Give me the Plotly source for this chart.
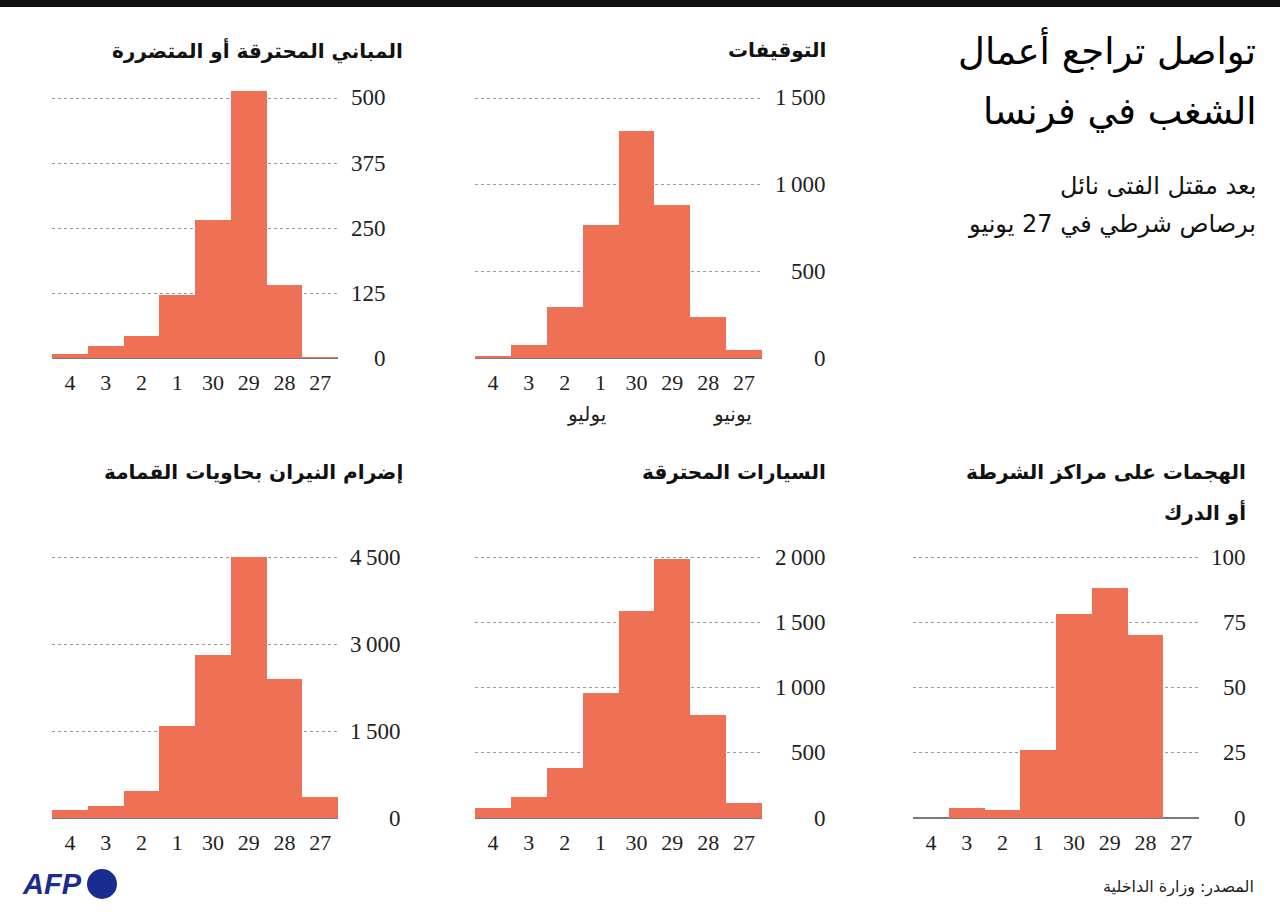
import plotly.graph_objects as go

W, H = 1280, 912

# ---------------- data ----------------
dates = ["27", "28", "29", "30", "1", "2", "3", "4"]          # chronological
display_order = ["4", "3", "2", "1", "30", "29", "28", "27"]  # left -> right

buildings = [1, 140, 514, 265, 121, 42, 23, 7]
arrests = [44, 237, 881, 1311, 769, 294, 77, 13]
bins = [355, 2397, 4500, 2803, 1591, 470, 200, 143]
cars = [115, 786, 1987, 1583, 958, 383, 158, 77]
attacks = [0, 70, 88, 78, 26, 3, 4, 0]

ticks_buildings = [0, 125, 250, 375, 500]
ticks_arrests = [0, 500, 1000, 1500]
ticks_bins = [0, 1500, 3000, 4500]
ticks_cars = [0, 500, 1000, 1500, 2000]
ticks_attacks = [0, 25, 50, 75, 100]

title_lines = ["تواصل تراجع أعمال", "الشغب في فرنسا"]
subtitle_lines = ["بعد مقتل الفتى نائل", "برصاص شرطي في 27 يونيو"]
panel_titles = [
    ["المباني المحترقة أو المتضررة"],
    ["التوقيفات"],
    ["إضرام النيران بحاويات القمامة"],
    ["السيارات المحترقة"],
    ["الهجمات على مراكز الشرطة", "أو الدرك"],
]
month_july = "يوليو"
month_june = "يونيو"
source_text = "المصدر: وزارة الداخلية"

BAR = "#EE7055"
AR_FONT = "DejaVu Sans"
NUM_FONT = "Liberation Serif"


def fmt(v):
    s = f"{v:,}"
    return s.replace(",", "\u2009")


def px_x(x):
    return x / W


def px_y(y):
    return 1 - y / H


# panels: (values, ticks, x-left, x-right, zero px, top-tick px, label-right px, title-right px, title-y px)
panels = [
    (buildings, ticks_buildings, 52, 338, 358, 98, 388, 405, 50),
    (arrests, ticks_arrests, 475, 762, 358, 98, 828, 828, 50),
    (bins, ticks_bins, 52, 338, 818, 557, 403, 405, 472),
    (cars, ticks_cars, 475, 762, 818, 557, 828, 828, 472),
    (attacks, ticks_attacks, 913, 1199, 818, 557, 1248, 1248, 472),
]

fig = go.Figure()
annotations = []
layout = {}

for i, (vals, tks, xl, xr, y0, yt, lab_r, tit_r, tit_y) in enumerate(panels):
    n = i + 1
    xa = "x" if n == 1 else f"x{n}"
    ya = "y" if n == 1 else f"y{n}"
    top_dom_px = yt - 20
    rmax = tks[-1] * (y0 - top_dom_px) / (y0 - yt)
    fig.add_trace(go.Bar(
        x=dates, y=vals, xaxis=xa, yaxis=ya,
        marker=dict(color=BAR, line=dict(width=0)),
        showlegend=False, hoverinfo="x+y",
    ))
    layout["xaxis" if n == 1 else f"xaxis{n}"] = dict(
        domain=[px_x(xl), px_x(xr)], anchor=ya,
        type="category", categoryorder="array", categoryarray=display_order,
        range=[-0.5, 7.5],
        showgrid=False, showline=False, zeroline=False,
        ticks="outside", ticklen=5, tickcolor="rgba(0,0,0,0)",
        tickfont=dict(family=NUM_FONT, size=22, color="#222"),
        fixedrange=True,
    )
    layout["yaxis" if n == 1 else f"yaxis{n}"] = dict(
        domain=[px_y(y0), px_y(top_dom_px)], anchor=xa,
        range=[0, rmax], tickvals=tks, showticklabels=False,
        showgrid=True, gridcolor="#999999", griddash="dot", gridwidth=1,
        zeroline=True, zerolinecolor="#7a7a7a", zerolinewidth=1.5,
        showline=False, ticks="", fixedrange=True,
    )
    for t in tks:
        annotations.append(dict(
            x=px_x(lab_r), xref="paper", y=t, yref=ya,
            text=fmt(t), showarrow=False, xanchor="right", yanchor="middle",
            font=dict(family=NUM_FONT, size=23, color="#222"),
        ))
    for j, line in enumerate(panel_titles[i]):
        annotations.append(dict(
            x=px_x(tit_r), xref="paper", y=px_y(tit_y + 40 * j), yref="paper",
            text=line, showarrow=False, xanchor="right", yanchor="middle",
            font=dict(family=AR_FONT, size=20, color="#111", weight="bold"),
        ))

# month labels under the arrests panel
annotations.append(dict(x=px_x(608), xref="paper", y=px_y(414), yref="paper", text=month_july,
                        showarrow=False, xanchor="right", yanchor="middle",
                        font=dict(family=AR_FONT, size=20, color="#222")))
annotations.append(dict(x=px_x(754), xref="paper", y=px_y(414), yref="paper", text=month_june,
                        showarrow=False, xanchor="right", yanchor="middle",
                        font=dict(family=AR_FONT, size=20, color="#222")))

# main title and subtitle
for j, line in enumerate(title_lines):
    annotations.append(dict(x=px_x(1258), xref="paper", y=px_y(50 + 62 * j), yref="paper",
                            text=line, showarrow=False, xanchor="right", yanchor="middle",
                            font=dict(family=AR_FONT, size=37, color="#000")))
for j, line in enumerate(subtitle_lines):
    annotations.append(dict(x=px_x(1258), xref="paper", y=px_y(186 + 38 * j), yref="paper",
                            text=line, showarrow=False, xanchor="right", yanchor="middle",
                            font=dict(family=AR_FONT, size=24, color="#111")))

# source
annotations.append(dict(x=px_x(1256), xref="paper", y=px_y(887), yref="paper",
                        text=source_text, showarrow=False, xanchor="right", yanchor="middle",
                        font=dict(family=AR_FONT, size=16, color="#222")))
# AFP logo text
annotations.append(dict(x=px_x(20), xref="paper", y=px_y(884), yref="paper",
                        text="<b><i>AFP</i></b>", showarrow=False, xanchor="left", yanchor="middle",
                        font=dict(family="Liberation Sans", size=29, color="#1A2C8E")))

shapes = [
    dict(type="rect", xref="paper", yref="paper", x0=0, x1=1, y0=px_y(7), y1=px_y(0),
         fillcolor="#111", line=dict(width=0), layer="above"),
    dict(type="circle", xref="paper", yref="paper",
         x0=px_x(87), x1=px_x(117), y0=px_y(899), y1=px_y(869),
         fillcolor="#1A2C8E", line=dict(width=0)),
]

fig.update_layout(
    width=W, height=H, margin=dict(l=0, r=0, t=0, b=0),
    paper_bgcolor="white", plot_bgcolor="white",
    bargap=0, annotations=annotations, shapes=shapes,
    **layout,
)

fig.write_html("out.html", config={"displayModeBar": False},
               post_script="document.body.style.margin='0';document.body.style.overflow='hidden';")
